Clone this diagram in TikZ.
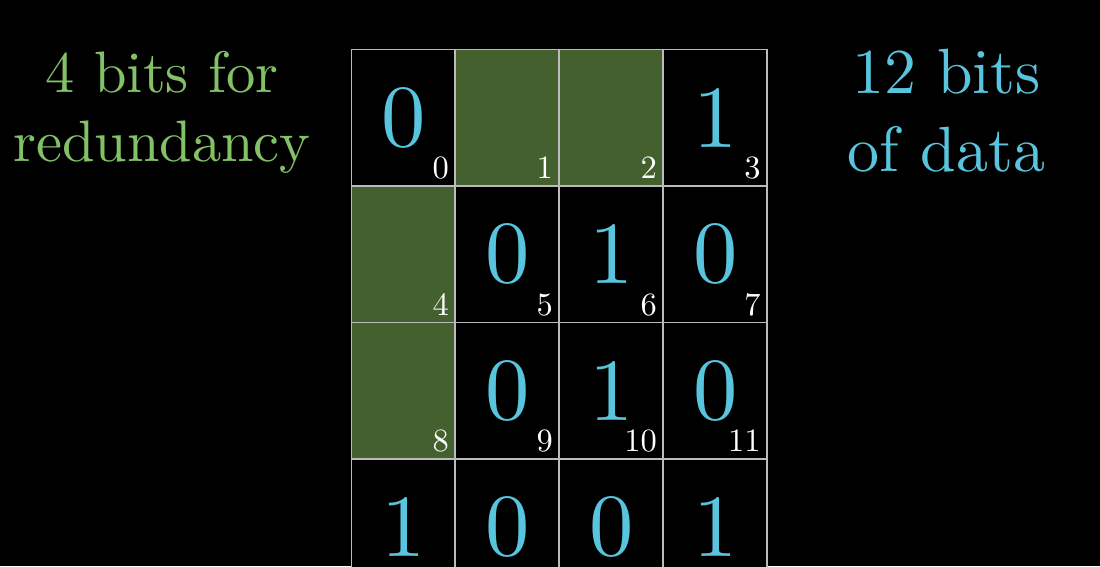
\documentclass[tikz,border=0pt]{standalone}
\usepackage{fontspec}
\setmainfont{lmroman10-regular}[Extension=.otf]
\usepackage{xcolor}
\definecolor{bitblue}{HTML}{58C4DD}
\definecolor{bitgreen}{HTML}{83C167}
\definecolor{parityfill}{HTML}{45602F}
\definecolor{gridgrey}{HTML}{BBBBBB}

\tikzset{
  cell/.style={draw=gridgrey, line width=1.1pt, minimum width=2.078cm, minimum height=2.73cm, inner sep=0pt},
  bigbit/.style={text=bitblue, font=\fontsize{50.4}{60}\selectfont, inner sep=0pt},
  idx/.style={text=white, font=\fontsize{18.5}{22}\selectfont, inner sep=0pt, anchor=base east, xshift=-4pt, yshift=4.6pt}
}

\begin{document}
\begin{tikzpicture}[x=0.02cm, y=-0.02cm]
\fill[black] (0,0) rectangle (1100,566);
\useasboundingbox (0,0) rectangle (1100,566);
\clip (0,0) rectangle (1100,566);

% labels on both sides
\node[text=bitgreen, font=\fontsize{33.3}{40}\selectfont, anchor=base] (redtop) at (162,92) {4 bits for};
\node[text=bitgreen, font=\fontsize{33.3}{40}\selectfont, anchor=base] (redbot) at (162,161) {redundancy};
\node[text=bitblue, font=\fontsize{36.4}{44}\selectfont, anchor=base] (datatop) at (946.5,93) {12 bits};
\node[text=bitblue, font=\fontsize{36.4}{44}\selectfont, anchor=base] (databot) at (946.5,171) {of data};

% the 4x4 block, g = parity cell
\foreach \b [count=\i from 0] in {0,g,g,1,g,0,1,0,g,0,1,0,1,0,0,1} {
  \pgfmathtruncatemacro\col{mod(\i,4)}
  \pgfmathtruncatemacro\row{div(\i,4)}
  \if\b g\def\cellfill{parityfill}\def\bit{}\else\def\cellfill{black}\def\bit{\b}\fi
  \node[cell, fill=\cellfill] (c\i) at ({351.5+103.9*(\col+0.5)},{49.5+136.5*(\row+0.5)}) {};
  \node[bigbit] (b\i) at (c\i) {\bit};
  \ifnum\i<12
    \node[idx] (n\i) at (c\i.south east) {\i};
  \fi
}
\end{tikzpicture}
\end{document}
